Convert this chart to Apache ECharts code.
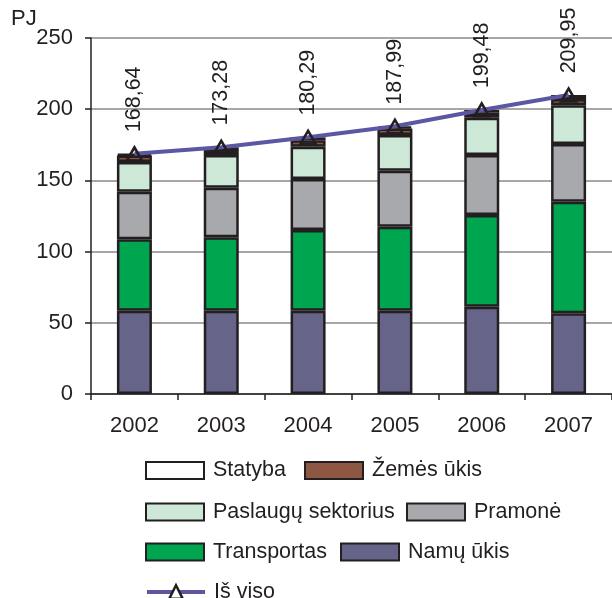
<!DOCTYPE html>
<html><head><meta charset="utf-8">
<script src="https://cdn.jsdelivr.net/npm/echarts@6/dist/echarts.min.js"></script>
<style>html,body{margin:0;padding:0;background:#fff}#c{width:612px;height:598px}</style>
</head><body><div id="c"></div>
<script>
const years = ['2002','2003','2004','2005','2006','2007'];
const namuUkis = [58.5, 58.5, 58.5, 58.5, 61.3, 56.7];
const transportas = [50.1, 51.5, 56.7, 59.0, 64.4, 78.3];
const pramone = [33.4, 34.9, 35.8, 39.3, 42.1, 40.6];
const paslaugos = [21.0, 22.9, 22.7, 25.1, 26.2, 27.1];
const zemesUkis = [4.5, 3.5, 4.5, 4.5, 3.5, 4.5];
const statyba = [1.1, 2.0, 2.1, 1.6, 2.0, 2.8];
const isViso = [168.64, 173.28, 180.29, 187.99, 199.48, 209.95];
const yTicks = [0, 50, 100, 150, 200, 250];

const FONT = 'Liberation Sans, Arial, sans-serif';
const TXT = '#231f20';
const chart = echarts.init(document.getElementById('c'), null, {renderer:'canvas'});

function bar(name, data, color) {
  return {
    name, type:'bar', stack:'total', data, barWidth:35,
    itemStyle:{color, borderColor:TXT, borderWidth:2.5},
    emphasis:{disabled:true}
  };
}
function leg(name, left, center, isLine) {
  const o = {
    data:[name], left, top:center-12, padding:0, itemWidth:58, itemHeight:17,
    selectedMode:false,
    textStyle:{fontFamily:FONT, fontSize:21.5, color:TXT, padding:[0,0,0,4]}
  };
  if (!isLine) { o.icon = 'rect'; o.itemStyle = {borderWidth:2, borderColor:TXT}; }
  else { o.lineStyle = {width:4, color:'#5b57a2'}; o.itemStyle = {borderWidth:2.5, borderColor:TXT, color:'#ffffff'}; }
  return o;
}

chart.setOption({
  animation:false,
  backgroundColor:'#fff',
  graphic:[{type:'text', left:11, top:8, style:{text:'PJ', fontFamily:FONT, fontSize:22, fill:TXT}}],
  grid:{left:91, right:0, top:38, bottom:204, containLabel:false},
  legend:[
    leg('Statyba',145,471.5),
    leg('Žemės ūkis',304,471.5),
    leg('Paslaugų sektorius',145,513),
    leg('Pramonė',406,513),
    leg('Transportas',145,553),
    leg('Namų ūkis',340,553),
    leg('Iš viso',145,593,true)
  ],
  xAxis:{
    type:'category', data:years, boundaryGap:true,
    axisLine:{lineStyle:{color:TXT, width:1.5}},
    axisTick:{show:true, length:6, lineStyle:{color:TXT, width:1.5}},
    axisLabel:{fontFamily:FONT, fontSize:22, color:TXT, margin:21}
  },
  yAxis:{
    type:'value', min:yTicks[0], max:yTicks[yTicks.length-1], interval:50,
    axisLine:{show:true, lineStyle:{color:TXT, width:1.5}},
    axisTick:{show:true, length:6, lineStyle:{color:TXT, width:1.5}},
    axisLabel:{fontFamily:FONT, fontSize:22, color:TXT, margin:18},
    splitLine:{lineStyle:{color:'#8a8a8a', width:1.5}}
  },
  series:[
    bar('Namų ūkis', namuUkis, '#67648a'),
    bar('Transportas', transportas, '#00a550'),
    bar('Pramonė', pramone, '#a8a9ad'),
    bar('Paslaugų sektorius', paslaugos, '#cde8d7'),
    bar('Žemės ūkis', zemesUkis, '#8e5744'),
    bar('Statyba', statyba, '#ffffff'),
    {
      name:'Iš viso', type:'line', data:isViso, z:10,
      lineStyle:{color:'#5b57a2', width:4},
      symbol:'triangle', symbolSize:[15,13], showAllSymbol:true,
      itemStyle:{color:'rgba(0,0,0,0)', borderColor:TXT, borderWidth:2.5},
      label:{
        show:true, position:'top', rotate:90, distance:14, align:'left', verticalAlign:'middle',
        fontFamily:FONT, fontSize:21.5, color:TXT,
        formatter:p=>p.value.toFixed(2).replace('.',',')
      },
      emphasis:{disabled:true}
    }
  ]
});
</script></body></html>
